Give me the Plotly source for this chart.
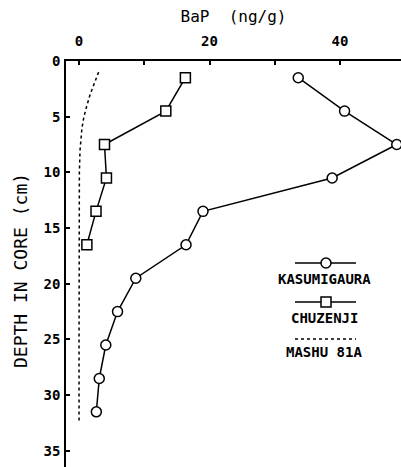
import plotly.graph_objects as go

# Sediment core profiles of benzo[a]pyrene
kasumi_depth = [1.5, 4.5, 7.5, 10.5, 13.5, 16.5, 19.5, 22.5, 25.5, 28.5, 31.5]
kasumi_bap = [33.6, 40.7, 48.7, 38.8, 19.0, 16.4, 8.7, 5.9, 4.1, 3.1, 2.65]

chuzenji_depth = [1.5, 4.5, 7.5, 10.5, 13.5, 16.5]
chuzenji_bap = [16.3, 13.3, 3.9, 4.2, 2.6, 1.2]

mashu_depth = [1.0, 2.0, 3.0, 4.0, 5.0, 6.0, 7.0, 8.0, 10.0, 15.0, 20.0, 25.0, 30.0, 32.3]
mashu_bap = [3.0, 2.3, 1.7, 1.2, 0.75, 0.45, 0.25, 0.15, 0.05, 0.0, 0.0, 0.0, 0.0, 0.0]

x_ticks = [0, 10, 20, 30, 40]
x_tick_text = ["0", "", "20", "", "40"]
y_ticks = [0, 5, 10, 15, 20, 25, 30, 35]
y_tick_text = ["0", "5", "10", "15", "20", "25", "30", "35"]

FONT = "DejaVu Sans Mono"
INK = "black"

fig = go.Figure()

fig.add_trace(go.Scatter(
    x=mashu_bap, y=mashu_depth, mode="lines",
    line=dict(color=INK, width=1.5, dash="dot"), cliponaxis=False,
    showlegend=False))

fig.add_trace(go.Scatter(
    x=chuzenji_bap, y=chuzenji_depth, mode="lines+markers",
    line=dict(color=INK, width=1.5),
    marker=dict(symbol="square", size=10, color="white",
                line=dict(color=INK, width=1.5)),
    cliponaxis=False, showlegend=False))

fig.add_trace(go.Scatter(
    x=kasumi_bap, y=kasumi_depth, mode="lines+markers",
    line=dict(color=INK, width=1.5),
    marker=dict(symbol="circle", size=10, color="white",
                line=dict(color=INK, width=1.5)),
    cliponaxis=False, showlegend=False))

# Hand-drawn legend block: sample line above each label
W, H = 401, 467
ML, MT = 66, 61
pw, ph = W - ML, H - MT


def px(x):
    return (x - ML) / pw


def py(y):
    return 1 - (y - MT) / ph


legend_items = [
    ("KASUMIGAURA", 263, 279, "solid", "circle"),
    ("CHUZENJI", 302, 318, "solid", "square"),
    ("MASHU 81A", 339, 352, "dot", None),
]
for label, ly, ty, dash, sym in legend_items:
    fig.add_shape(type="line", xref="paper", yref="paper",
                  x0=px(295), x1=px(356), y0=py(ly), y1=py(ly),
                  line=dict(color=INK, width=1.5, dash=dash))
    if sym == "circle":
        fig.add_shape(type="circle", xref="paper", yref="paper",
                      x0=px(321), x1=px(331), y0=py(ly + 5), y1=py(ly - 5),
                      fillcolor="white", line=dict(color=INK, width=1.5))
    elif sym == "square":
        fig.add_shape(type="rect", xref="paper", yref="paper",
                      x0=px(321), x1=px(331), y0=py(ly + 5), y1=py(ly - 5),
                      fillcolor="white", line=dict(color=INK, width=1.5))
    fig.add_annotation(text=label, xref="paper", yref="paper",
                       x=px(324), y=py(ty), showarrow=False,
                       xanchor="center", yanchor="middle",
                       font=dict(family=FONT, size=14, color=INK, weight="bold"))

# Vertical axis title placed by hand
fig.add_annotation(text="DEPTH IN CORE (cm)", xref="paper", yref="paper",
                   x=px(20), y=py(271), showarrow=False, textangle=-90,
                   xanchor="center", yanchor="middle",
                   font=dict(family=FONT, size=18, color=INK))

fig.update_layout(
    width=W, height=H,
    margin=dict(l=ML, r=0, t=MT, b=0),
    paper_bgcolor="white", plot_bgcolor="white",
    font=dict(family=FONT, color=INK),
    xaxis=dict(
        side="top", range=[-2, 49.35],
        tickvals=x_ticks, ticktext=x_tick_text,
        ticks="inside", ticklen=4, tickwidth=1.5, tickcolor=INK,
        showline=True, linecolor=INK, linewidth=1.5,
        showgrid=False, zeroline=False,
        tickfont=dict(family=FONT, size=14, color=INK, weight="bold"),
        ticklabelstandoff=8,
        title=dict(text="BaP  (ng/g)", standoff=6,
                   font=dict(family=FONT, size=16, color=INK)),
    ),
    yaxis=dict(
        range=[36.45, 0],
        tickvals=y_ticks, ticktext=y_tick_text,
        ticks="inside", ticklen=4, tickwidth=1.5, tickcolor=INK,
        showline=True, linecolor=INK, linewidth=1.5,
        showgrid=False, zeroline=False,
        tickfont=dict(family=FONT, size=14, color=INK, weight="bold"),
        ticklabelstandoff=1,
    ),
)

fig.write_html("out.html")
